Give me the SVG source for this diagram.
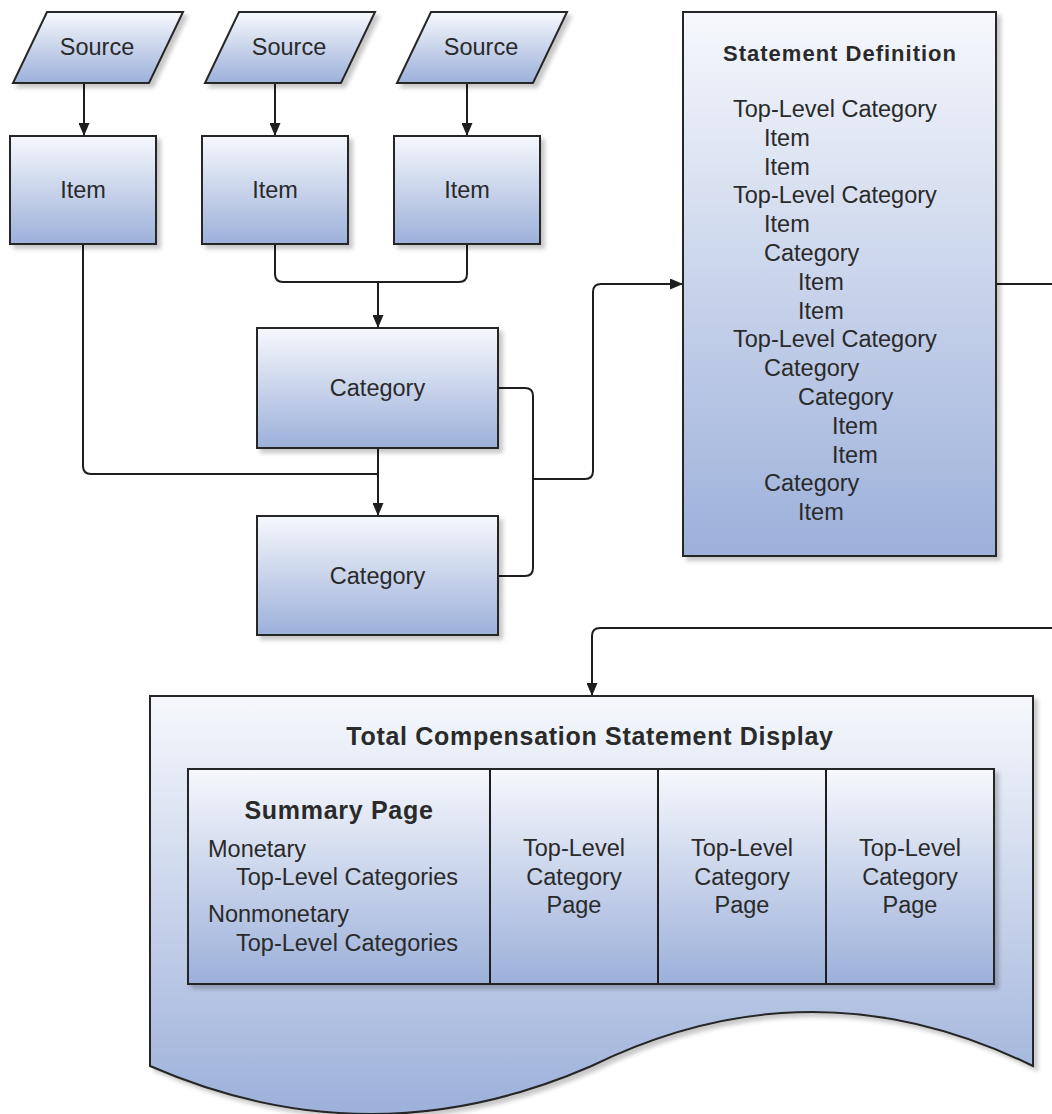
<svg xmlns="http://www.w3.org/2000/svg" width="1052" height="1114" viewBox="0 0 1052 1114">
<style>
.shape{stroke:#262626;stroke-width:2;fill:url(#g)}
.t{font-family:"Liberation Sans",Arial,sans-serif;font-size:23.5px;fill:#2a2a2a}
.c{text-anchor:middle}
.b{font-weight:bold}
.conn{fill:none;stroke:#1e1e1e;stroke-width:2}
.arr{marker-end:url(#ah)}
</style>
<defs>
<linearGradient id="g" x1="0" y1="0" x2="0" y2="1">
<stop offset="0" stop-color="#f6f8fc"/>
<stop offset="1" stop-color="#9cb0da"/>
</linearGradient>
<filter id="sh" x="-10%" y="-10%" width="130%" height="130%">
<feDropShadow dx="4" dy="4" stdDeviation="2" flood-color="#000" flood-opacity="0.22"/>
</filter>
<marker id="ah" markerUnits="userSpaceOnUse" viewBox="0 0 13 11" markerWidth="13" markerHeight="11" refX="13" refY="5.5" orient="auto">
<path d="M0,0 L13,5.5 L0,11 z" fill="#1e1e1e"/>
</marker>
</defs>
<rect width="1052" height="1114" fill="#fff"/>

<g id="connectors">
<path class="conn arr" d="M84,83 V136"/>
<path class="conn arr" d="M275,83 V136"/>
<path class="conn arr" d="M467,83 V136"/>
<path class="conn" d="M275,244 V274 Q275,282 283,282 H459 Q467,282 467,274 V244"/>
<path class="conn arr" d="M378,282 V328"/>
<path class="conn" d="M83,244 V466 Q83,474 91,474 H378"/>
<path class="conn arr" d="M378,448 V516"/>
<path class="conn" d="M498,388 H525 Q533,388 533,396 V568 Q533,576 525,576 H498"/>
<path class="conn arr" d="M533,479 H585 Q593,479 593,471 V292 Q593,284 601,284 H683"/>
<path class="conn" d="M996,284 H1052"/>
<path class="conn arr" d="M1052,628 H600 Q592,628 592,636 V696"/>
</g>

<g id="source1">
<polygon class="shape" filter="url(#sh)" points="47,12 183,12 149,83 13,83"/>
<text class="t c" x="97" y="55">Source</text>
</g>
<g id="source2">
<polygon class="shape" filter="url(#sh)" points="239,12 375,12 341,83 205,83"/>
<text class="t c" x="289" y="55">Source</text>
</g>
<g id="source3">
<polygon class="shape" filter="url(#sh)" points="431,12 567,12 533,83 397,83"/>
<text class="t c" x="481" y="55">Source</text>
</g>

<g id="item1">
<rect class="shape" filter="url(#sh)" x="10" y="136" width="146" height="108"/>
<text class="t c" x="83" y="198">Item</text>
</g>
<g id="item2">
<rect class="shape" filter="url(#sh)" x="202" y="136" width="146" height="108"/>
<text class="t c" x="275" y="198">Item</text>
</g>
<g id="item3">
<rect class="shape" filter="url(#sh)" x="394" y="136" width="146" height="108"/>
<text class="t c" x="467" y="198">Item</text>
</g>

<g id="category1">
<rect class="shape" filter="url(#sh)" x="257" y="328" width="241" height="120"/>
<text class="t c" x="377.5" y="396">Category</text>
</g>
<g id="category2">
<rect class="shape" filter="url(#sh)" x="257" y="516" width="241" height="119"/>
<text class="t c" x="377.5" y="584">Category</text>
</g>

<g id="statement-definition">
<rect class="shape" filter="url(#sh)" x="683" y="12" width="313" height="544"/>
<text class="t c b" x="840" y="61" style="font-size:22px;letter-spacing:1px">Statement Definition</text>
<text class="t" x="733" y="117">Top-Level Category</text>
<text class="t" x="764" y="145.8">Item</text>
<text class="t" x="764" y="174.6">Item</text>
<text class="t" x="733" y="203.4">Top-Level Category</text>
<text class="t" x="764" y="232.2">Item</text>
<text class="t" x="764" y="261">Category</text>
<text class="t" x="798" y="289.8">Item</text>
<text class="t" x="798" y="318.6">Item</text>
<text class="t" x="733" y="347.4">Top-Level Category</text>
<text class="t" x="764" y="376.2">Category</text>
<text class="t" x="798" y="405">Category</text>
<text class="t" x="832" y="433.8">Item</text>
<text class="t" x="832" y="462.6">Item</text>
<text class="t" x="764" y="491.4">Category</text>
<text class="t" x="798" y="520.2">Item</text>
</g>

<g id="statement-display">
<path class="shape" filter="url(#sh)" d="M150,696 H1033 V1066 C886,994 738.5,994 591.5,1066 C444.5,1130 297,1130 150,1066 Z"/>
<text class="t c b" x="590" y="745" style="font-size:25px;letter-spacing:0.7px">Total Compensation Statement Display</text>
<rect class="shape" filter="url(#sh)" x="188" y="769" width="806" height="215"/>
<path class="conn" d="M490,769 V984 M658,769 V984 M826,769 V984"/>
<text class="t c b" x="339" y="819" style="font-size:25px;letter-spacing:0.7px">Summary Page</text>
<text class="t" x="208" y="857">Monetary</text>
<text class="t" x="236" y="885">Top-Level Categories</text>
<text class="t" x="208" y="922">Nonmonetary</text>
<text class="t" x="236" y="951">Top-Level Categories</text>
<text class="t c" x="574" y="856">Top-Level</text>
<text class="t c" x="574" y="885">Category</text>
<text class="t c" x="574" y="913">Page</text>
<text class="t c" x="742" y="856">Top-Level</text>
<text class="t c" x="742" y="885">Category</text>
<text class="t c" x="742" y="913">Page</text>
<text class="t c" x="910" y="856">Top-Level</text>
<text class="t c" x="910" y="885">Category</text>
<text class="t c" x="910" y="913">Page</text>
</g>
</svg>
